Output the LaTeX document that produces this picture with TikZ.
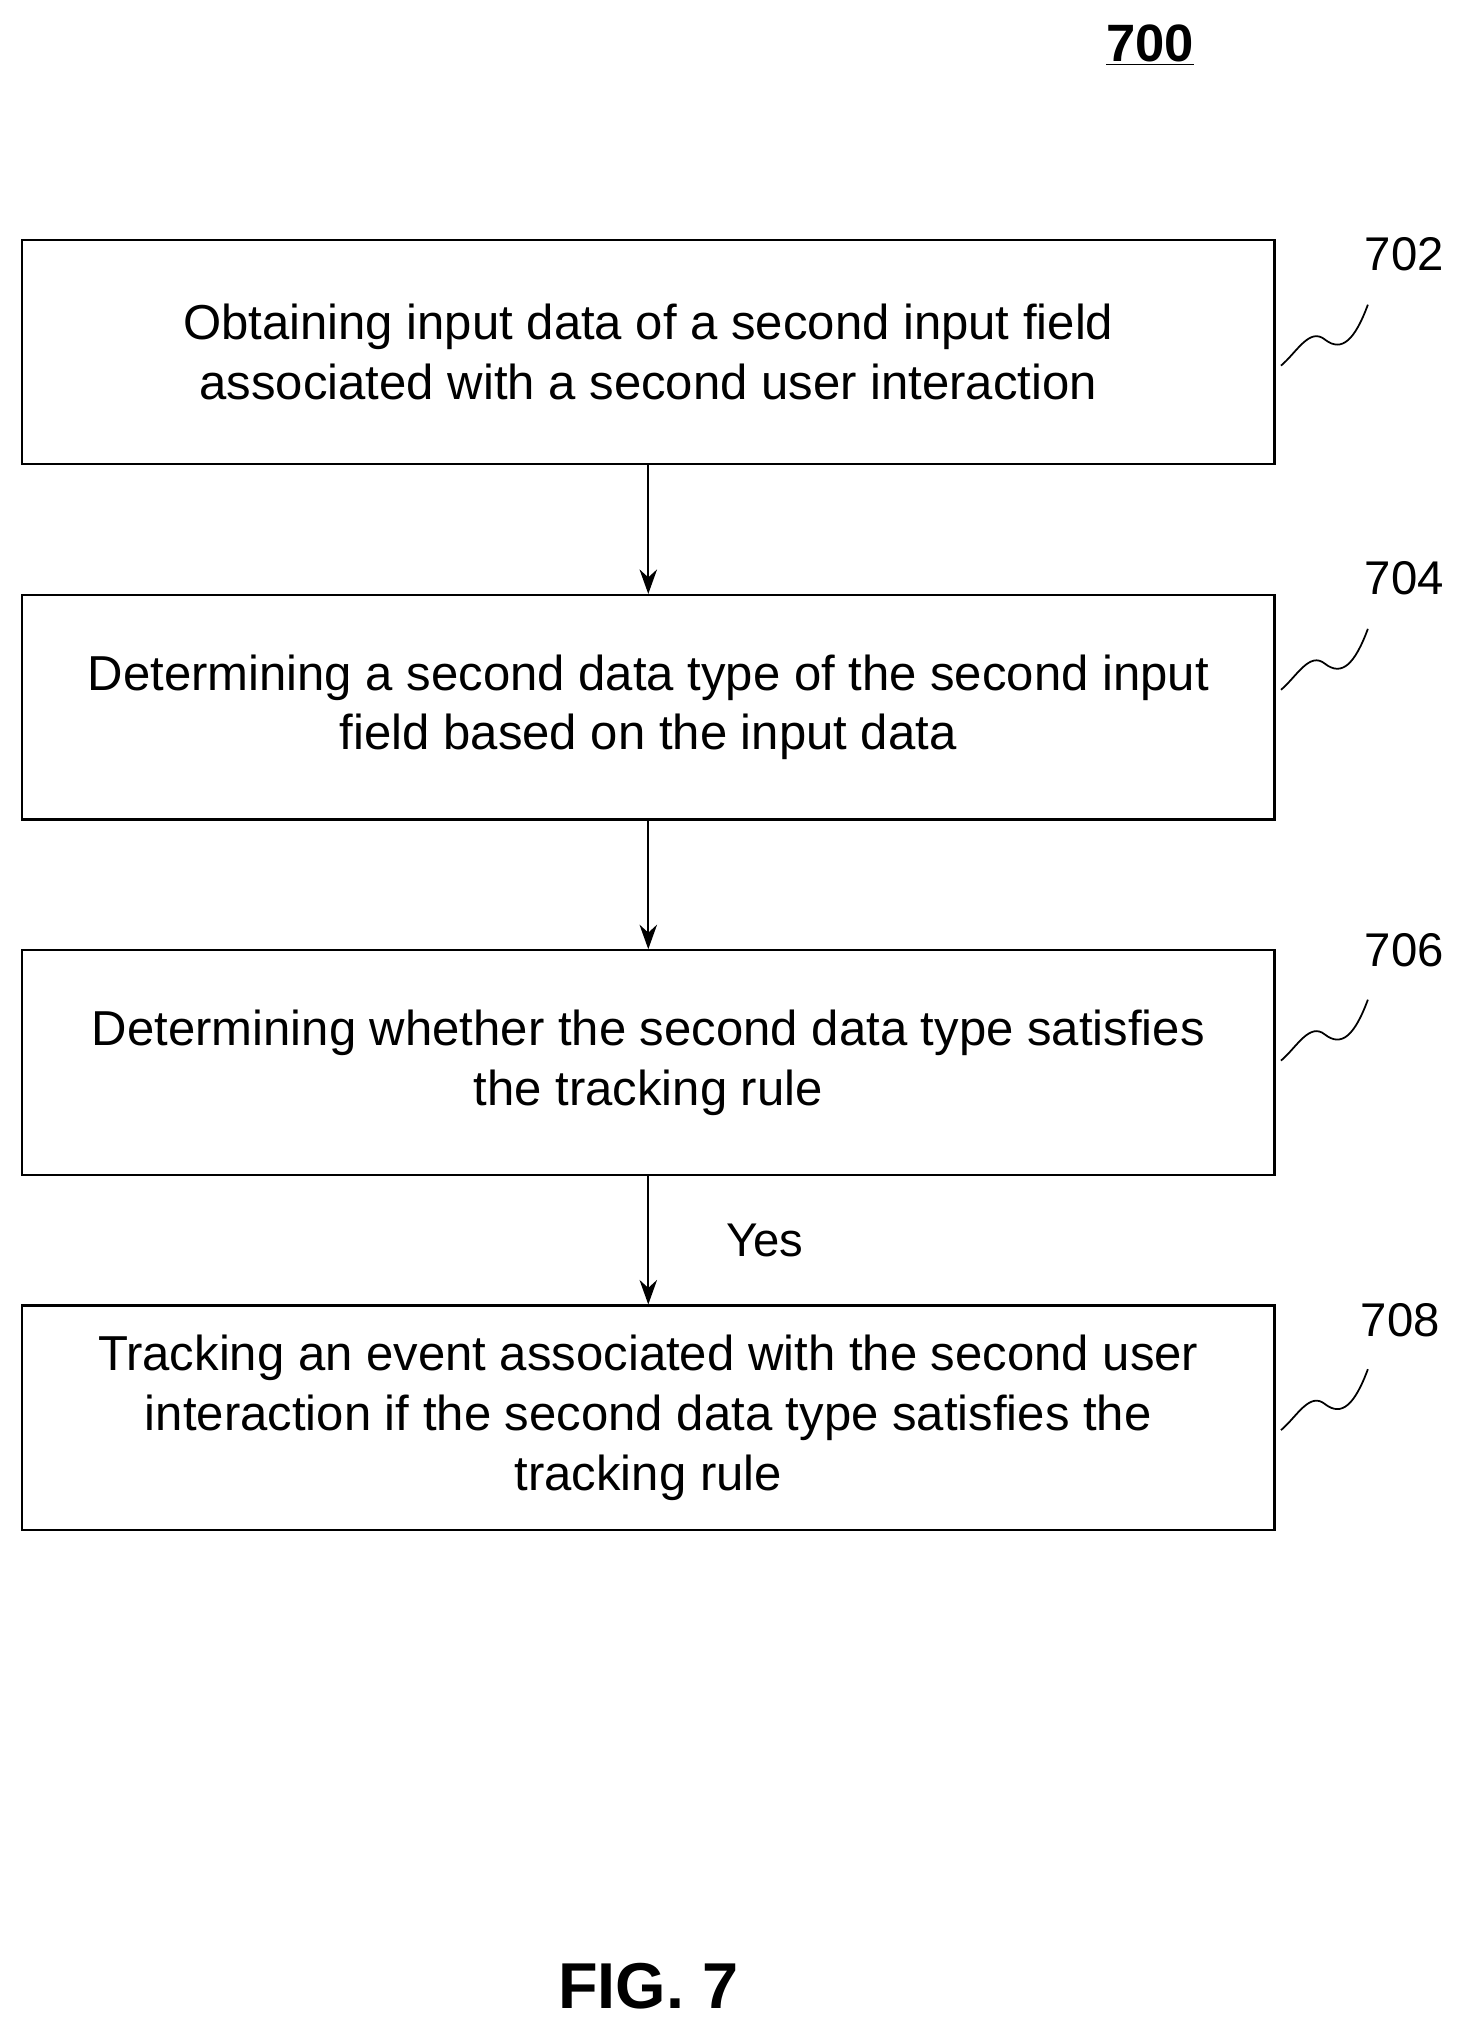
\documentclass[tikz,border=0pt]{standalone}
\usepackage{fontspec}
\setmainfont{Liberation Sans}
\usetikzlibrary{arrows.meta}
\begin{document}
\begin{tikzpicture}[x=0.026cm, y=-0.026cm]

      \tikzset{stepbox/.style={draw, line width=1.3pt, minimum width=25.12cm, minimum height=4.5cm, align=center, inner sep=0pt, font=\fontsize{28}{34}\selectfont},
               ref/.style={font=\fontsize{27}{30}\selectfont},
               flow/.style={line width=1pt, -{Stealth[length=14pt, width=10pt]}},
               squig/.style={line width=1pt}}
      \useasboundingbox (0,0) rectangle (1130,1568);
%% Steps
      	\node[stepbox] (s702) at (500,271.5) {Obtaining input data of a second input field\\associated with a second user interaction};
      	\node[stepbox] (s704) at (500,545.5) {Determining a second data type of the second input\\field based on the input data};
      	\node[stepbox] (s706) at (500,819.5) {Determining whether the second data type satisfies\\the tracking rule};
      	\node[stepbox] (s708) at (500,1093.5) {Tracking an event associated with the second user\\interaction if the second data type satisfies the\\tracking rule};
%% Reference numbers
      	\node[font=\fontsize{30}{36}\selectfont\bfseries] (n700) at (887,35) {\underline{700}};
      	\node[ref] (n702) at (1083,196) {702};
      	\node[ref] (n704) at (1083,446) {704};
      	\node[ref] (n706) at (1083,733) {706};
      	\node[ref] (n708) at (1080,1018) {708};
      	\node[font=\fontsize{37}{44}\selectfont\bfseries] (fig) at (500,1532) {FIG. 7};
      	\node[ref] (yes) at (590,957) {Yes};
%Squiggles
      	\foreach \n/\y in {702/282, 704/532, 706/818, 708/1103} {
      	  \coordinate (a\n) at (988,\y);
      	  \coordinate (b\n) at (1055,\y-47);
      	  \draw[squig] (a\n) .. controls (1000,\y-10) and (1010,\y-30) .. (1022,\y-20)
      	    .. controls (1035,\y-10) and (1045,\y-20) .. (b\n);
      	}
%Arrows
		\draw[flow] (s702) -- (s704);
		\draw[flow] (s704) -- (s706);
		\draw[flow] (s706) -- (s708);
	\end{tikzpicture}
\end{document}
